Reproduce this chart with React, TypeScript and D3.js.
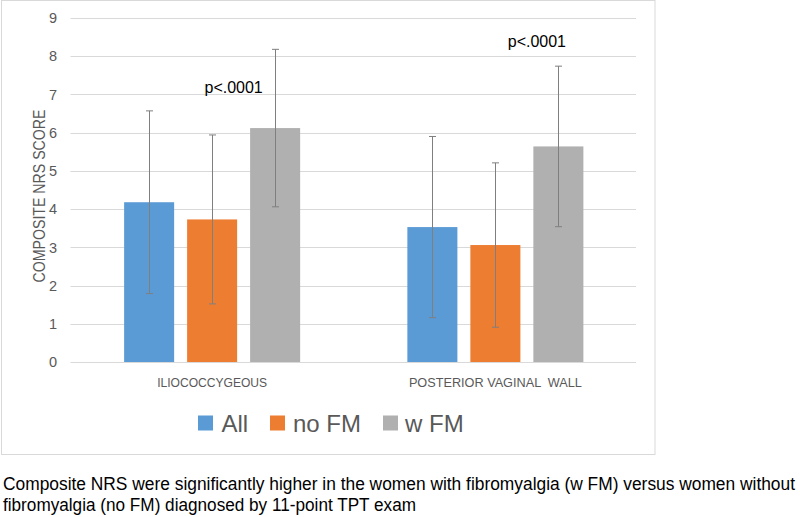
import React from "react";
import * as d3 from "d3";

const categories = ["ILIOCOCCYGEOUS", "POSTERIOR VAGINAL  WALL"];
const seriesNames = ["All", "no FM", "w FM"];
const seriesColors = ["#5B9BD5", "#ED7D31", "#B0B0B0"];
// means per category, per series
const allValues = [4.18, 3.53];
const noFmValues = [3.73, 3.06];
const wFmValues = [6.12, 5.64];
// error bar half-widths
const allErr = [2.39, 2.37];
const noFmErr = [2.21, 2.15];
const wFmErr = [2.06, 2.1];
const pLabels = ["p<.0001", "p<.0001"];
const pLabelValues = [7.05, 8.25];
const yTicks = [0, 1, 2, 3, 4, 5, 6, 7, 8, 9];
const yTitle = "COMPOSITE NRS SCORE";
const captionLines = [
  "Composite NRS were significantly higher in the women with fibromyalgia (w FM) versus women without",
  "fibromyalgia (no FM) diagnosed by 11-point TPT exam",
];

export default function App() {
  const W = 800;
  const H = 517;
  const plotLeft = 70.5;
  const plotRight = 637;
  const y = d3.scaleLinear().domain([0, 9]).range([362, 18]);
  const x0 = d3.scaleBand<string>().domain(categories).range([plotLeft, plotRight]);
  const x1 = d3
    .scaleBand<string>()
    .domain(seriesNames)
    .range([0, 189])
    .paddingInner(0.206)
    .paddingOuter(0.103);
  const values = [allValues, noFmValues, wFmValues];
  const errs = [allErr, noFmErr, wFmErr];
  const textGray = "#595959";
  const font = "'Liberation Sans', Arial, sans-serif";
  const catWidths = [110, 173];

  const legendItems = [
    { sx: 198, tx: 221.5 },
    { sx: 270, tx: 293 },
    { sx: 383, tx: 405 },
  ];

  return (
    <svg
      width={W}
      height={H}
      style={{ position: "absolute", left: 0, top: 0, background: "#fff" }}
      fontFamily={font}
    >
      <rect x={0} y={0} width={W} height={H} fill="#fff" />
      <rect x={1.5} y={0.5} width={653.5} height={454} fill="none" stroke="#D9D9D9" strokeWidth={1} />
      {yTicks.map((t) => (
        <g key={t}>
          <line
            x1={plotLeft}
            x2={plotRight - 1}
            y1={Math.round(y(t)) + 0.5}
            y2={Math.round(y(t)) + 0.5}
            stroke="#D9D9D9"
            strokeWidth={1}
          />
          <text
            x={57}
            y={y(t)}
            dy="0.36em"
            textAnchor="end"
            fontSize={14.5}
            fill={textGray}
          >
            {t}
          </text>
        </g>
      ))}
      <text
        transform={`translate(44.5,196) rotate(-90)`}
        textAnchor="middle"
        fontSize={16}
        fill={textGray}
        textLength={173}
        lengthAdjust="spacingAndGlyphs"
      >
        {yTitle}
      </text>
      {categories.map((c, ci) => {
        const gx = (x0(c) as number) + x0.bandwidth() / 2 - 94.5;
        return (
          <g key={c}>
            {seriesNames.map((s, si) => {
              const v = values[si][ci];
              const bx = gx + (x1(s) as number);
              const bw = x1.bandwidth();
              return (
                <rect
                  key={s}
                  x={bx}
                  y={y(v)}
                  width={bw}
                  height={y(0) - y(v)}
                  fill={seriesColors[si]}
                />
              );
            })}
            {seriesNames.map((s, si) => {
              const v = values[si][ci];
              const e = errs[si][ci];
              const cx = Math.round(gx + (x1(s) as number) + x1.bandwidth() / 2) + 0.5;
              return (
                <g key={s} stroke="#7F7F7F" strokeWidth={1}>
                  <line x1={cx} x2={cx} y1={y(v + e)} y2={y(v - e)} />
                  <line x1={cx - 3.5} x2={cx + 3.5} y1={y(v + e)} y2={y(v + e)} />
                  <line x1={cx - 3.5} x2={cx + 3.5} y1={y(v - e)} y2={y(v - e)} />
                </g>
              );
            })}
            <text
              x={(x0(c) as number) + x0.bandwidth() / 2}
              y={387}
              textAnchor="middle"
              fontSize={13.5}
              fill={textGray}
              textLength={catWidths[ci]}
              lengthAdjust="spacingAndGlyphs"
              style={{ whiteSpace: "pre" }}
            >
              {c}
            </text>
            <text
              x={(x0(c) as number) + x0.bandwidth() / 2 + (ci === 0 ? 21.5 : 41.5)}
              y={y(pLabelValues[ci])}
              textAnchor="middle"
              fontSize={16}
              fill="#000"
            >
              {pLabels[ci]}
            </text>
          </g>
        );
      })}
      {seriesNames.map((s, si) => (
        <g key={s}>
          <rect x={legendItems[si].sx} y={415.5} width={15} height={15} fill={seriesColors[si]} />
          <text x={legendItems[si].tx} y={431.5} fontSize={24} fill={textGray}>
            {s}
          </text>
        </g>
      ))}
      {captionLines.map((l, i) => (
        <text
          key={i}
          x={3}
          y={490 + i * 20.5}
          fontSize={17.5}
          fill="#000"
          textLength={i === 0 ? 792 : 413}
          lengthAdjust="spacingAndGlyphs"
        >
          {l}
        </text>
      ))}
    </svg>
  );
}
